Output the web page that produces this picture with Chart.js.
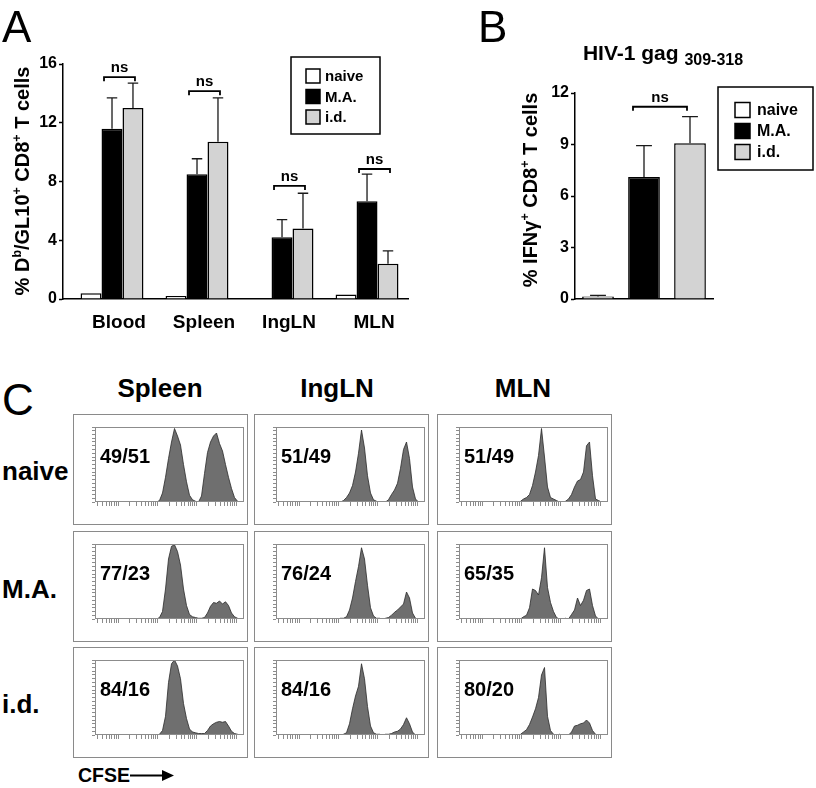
<!DOCTYPE html>
<html>
<head>
<meta charset="utf-8">
<script src="https://cdn.jsdelivr.net/npm/chart.js@4.4.1/dist/chart.umd.min.js"></script>
<style>
  html, body { margin: 0; padding: 0; background: #fff; }
  body { width: 816px; height: 788px; position: relative; overflow: hidden;
         font-family: "Liberation Sans", Arial, sans-serif; color: #000; }
  .abs { position: absolute; line-height: 1; white-space: nowrap; }
  .letter { font-size: 44px; }
  .hdr { font-size: 26px; font-weight: bold; }
  .hbox { position: absolute; width: 175px; height: 111px; border: 1px solid #8a8a8a; box-sizing: border-box; }
  canvas { position: absolute; }
</style>
</head>
<body>
<canvas id="chartA" width="420" height="340" style="left:0;top:0"></canvas>
<canvas id="chartB" width="396" height="340" style="left:420px;top:0"></canvas>
<div id="gridC"></div>

<div class="abs letter" style="left:2px;top:5px">A</div>
<div class="abs letter" style="left:478px;top:5px">B</div>
<div class="abs letter" style="left:2px;top:378px">C</div>

<div class="abs hdr" style="left:60px;width:200px;text-align:center;top:375px">Spleen</div>
<div class="abs hdr" style="left:237px;width:200px;text-align:center;top:375px">IngLN</div>
<div class="abs hdr" style="left:423px;width:200px;text-align:center;top:375px">MLN</div>

<div class="abs hdr" style="left:2px;top:458px">naive</div>
<div class="abs hdr" style="left:2px;top:576px">M.A.</div>
<div class="abs hdr" style="left:2px;top:691px">i.d.</div>

<div class="abs" style="left:78px;top:766px;font-size:19.5px;font-weight:bold">CFSE</div>
<svg class="abs" style="left:130px;top:770px" width="45" height="11">
  <line x1="0" y1="5.5" x2="34" y2="5.5" stroke="#000" stroke-width="2.2"/>
  <polygon points="32,0 44,5.5 32,11" fill="#000"/>
</svg>

<script>
// ---------- Panel A ----------
const tissues = ['Blood', 'Spleen', 'IngLN', 'MLN'];
const groupNames = ['naive', 'M.A.', 'i.d.'];
const naiveA = [0.4, 0.2, 0.05, 0.3];
const maA = [11.6, 8.5, 4.2, 6.65];
const idA = [13.0, 10.7, 4.8, 2.4];
const maErrA = [2.1, 1.05, 1.2, 1.85];
const idErrA = [1.7, 3.0, 2.4, 0.87];
const nsLevelA = [15.1, 14.15, 7.7, 8.85];
const ticksA = [0, 4, 8, 12, 16];

// ---------- Panel B ----------
const epitope = ['gag'];
const naiveB = [0.15];
const maB = [7.1];
const idB = [9.08];
const naiveErrB = [0.06];
const maErrB = [1.84];
const idErrB = [1.54];
const nsLevelB = [11.2];
const ticksB = [0, 3, 6, 9, 12];

// ---------- Panel C (CFSE histograms, % of max) ----------
const rowsC = ['naive', 'M.A.', 'i.d.'];
const colsC = ['Spleen', 'IngLN', 'MLN'];
const ratiosC = [
  ['49/51', '51/49', '51/49'],
  ['77/23', '76/24', '65/35'],
  ['84/16', '84/16', '80/20']
];
const cfseChannel = [61.5, 64.5, 67.5, 70.5, 73.5, 76.5, 79.5, 82.5, 85.5, 88.5, 91.5, 94.5, 97.5, 100.5, 103.5,
                     106.5, 109.5, 112.5, 115.5, 118.5, 121.5, 124.5, 127.5, 130.5, 133.5, 136.5, 139.5, 142.5, 145.5, 148.5];
const spleenNaive = [0, 2, 12, 33, 58, 80, 98, 88, 76, 50, 27, 9, 3, 1, 0, 8, 38, 66, 80, 88, 92, 78, 68, 50, 33, 18, 6, 1, 0, 0];
const inglnNaive  = [0, 0, 2, 6, 12, 22, 40, 65, 96, 72, 35, 12, 3, 1, 0, 0, 0, 3, 10, 16, 25, 45, 70, 80, 58, 20, 4, 0, 0, 0];
const mlnNaive    = [1, 4, 6, 10, 22, 40, 62, 98, 60, 20, 6, 4, 2, 0, 0, 1, 4, 10, 20, 28, 30, 40, 75, 80, 35, 4, 2, 0, 0, 0];
const spleenMA    = [0, 2, 10, 40, 80, 97, 99, 90, 72, 40, 18, 6, 3, 2, 1, 1, 2, 8, 17, 22, 21, 24, 20, 23, 18, 8, 3, 1, 0, 0];
const inglnMA     = [0, 1, 1, 3, 12, 28, 50, 70, 95, 80, 45, 15, 4, 1, 1, 0, 1, 2, 5, 9, 12, 16, 20, 36, 28, 8, 1, 0, 0, 0];
const mlnMA       = [0, 3, 5, 15, 40, 38, 32, 55, 95, 42, 22, 10, 2, 0, 0, 1, 0, 6, 12, 28, 18, 25, 38, 40, 18, 4, 0, 0, 0, 0];
const spleenID    = [0, 1, 6, 25, 70, 95, 100, 92, 75, 42, 22, 8, 4, 3, 2, 2, 2, 6, 12, 15, 17, 18, 17, 18, 12, 5, 2, 1, 0, 0];
const inglnID     = [0, 0, 1, 3, 15, 35, 52, 65, 95, 75, 38, 12, 3, 1, 1, 0, 1, 1, 2, 4, 5, 8, 14, 23, 15, 4, 0, 0, 0, 0];
const mlnID       = [1, 4, 7, 14, 24, 35, 50, 80, 90, 25, 6, 1, 0, 1, 0, 0, 0, 4, 12, 13, 15, 16, 20, 16, 6, 1, 0, 0, 0, 0];
const histC = [
  [spleenNaive, inglnNaive, mlnNaive],
  [spleenMA, inglnMA, mlnMA],
  [spleenID, inglnID, mlnID]
];

const FONT = '"Liberation Sans", Arial, sans-serif';
const fillColors = ['#ffffff', '#000000', '#d3d3d3'];

// draws upper error bars, from the bar top to value + err
function errorBarPlugin(errs, capMax) {
  return {
    id: 'errorBars',
    afterDatasetsDraw(chart) {
      const ctx = chart.ctx, ys = chart.scales.y;
      ctx.save();
      ctx.strokeStyle = '#1a1a1a';
      ctx.lineWidth = 1.3;
      chart.data.datasets.forEach((ds, i) => {
        const e = errs[i];
        if (!e) return;
        chart.getDatasetMeta(i).data.forEach((bar, j) => {
          const v = typeof ds.data[j] === 'object' ? ds.data[j].y : ds.data[j];
          const top = ys.getPixelForValue(v + e[j]);
          const cap = Math.min(capMax, bar.width * 0.5);
          ctx.beginPath();
          ctx.moveTo(bar.x, bar.y);
          ctx.lineTo(bar.x, top);
          ctx.moveTo(bar.x - cap / 2, top);
          ctx.lineTo(bar.x + cap / 2, top);
          ctx.stroke();
        });
      });
      ctx.restore();
    }
  };
}

// "ns" brackets between the M.A. and i.d. bars
function nsPlugin(levels, dl, dr) {
  return {
    id: 'nsBrackets',
    afterDatasetsDraw(chart) {
      const ctx = chart.ctx, ys = chart.scales.y;
      const ma = chart.getDatasetMeta(1).data, id = chart.getDatasetMeta(2).data;
      ctx.save();
      ctx.strokeStyle = '#000';
      ctx.lineWidth = 1.8;
      ctx.fillStyle = '#000';
      ctx.font = 'bold 15px ' + FONT;
      ctx.textAlign = 'center';
      ctx.textBaseline = 'alphabetic';
      levels.forEach((lv, j) => {
        const y = ys.getPixelForValue(lv);
        const x1 = ma[j].x + dl, x2 = id[j].x + dr;
        ctx.beginPath();
        ctx.moveTo(x1, y + 4);
        ctx.lineTo(x1, y);
        ctx.lineTo(x2, y);
        ctx.lineTo(x2, y + 4);
        ctx.stroke();
        ctx.fillText('ns', (x1 + x2) / 2, y - 5);
      });
      ctx.restore();
    }
  };
}

// boxed legend inside the canvas
function boxLegendPlugin(o) {
  return {
    id: 'boxLegend',
    afterDraw(chart) {
      const ctx = chart.ctx;
      ctx.save();
      ctx.strokeStyle = '#000';
      ctx.lineWidth = 1.5;
      ctx.strokeRect(o.x, o.y, o.w, o.h);
      ctx.font = 'bold ' + o.font + 'px ' + FONT;
      ctx.textBaseline = 'middle';
      ctx.textAlign = 'left';
      chart.data.datasets.forEach((ds, i) => {
        const cy = o.y + o.first + i * o.step;
        ctx.fillStyle = ds.backgroundColor;
        ctx.fillRect(o.sqX, cy - o.sq / 2, o.sq, o.sq);
        ctx.lineWidth = 1.5;
        ctx.strokeRect(o.sqX, cy - o.sq / 2, o.sq, o.sq);
        ctx.fillStyle = '#000';
        ctx.fillText(ds.label, o.textX, cy + 1);
      });
      ctx.restore();
    }
  };
}

// rotated y-axis title with superscripts
function richTitlePlugin(parts, cx, cy, size) {
  return {
    id: 'richTitle',
    afterDraw(chart) {
      const ctx = chart.ctx;
      ctx.save();
      ctx.translate(cx, cy);
      ctx.rotate(-Math.PI / 2);
      ctx.fillStyle = '#000';
      ctx.textBaseline = 'alphabetic';
      ctx.textAlign = 'left';
      const widths = parts.map(p => {
        ctx.font = 'bold ' + (p[1] ? size * 0.62 : size) + 'px ' + FONT;
        return ctx.measureText(p[0]).width;
      });
      let x = -widths.reduce((a, b) => a + b, 0) / 2;
      const base = size * 0.36;
      parts.forEach((p, i) => {
        ctx.font = 'bold ' + (p[1] ? size * 0.62 : size) + 'px ' + FONT;
        ctx.fillText(p[0], x, p[1] ? base - size * 0.42 : base);
        x += widths[i];
      });
      ctx.restore();
    }
  };
}

function barDataset(label, vals, color) {
  return {
    label: label,
    data: vals.map((v, i) => ({ x: i + 1, y: v })),
    backgroundColor: color,
    borderColor: '#000',
    borderWidth: 1.5
  };
}

function yAxis(max, ticks, width) {
  return {
    min: 0, max: max,
    afterBuildTicks: s => { s.ticks = ticks.map(v => ({ value: v })); },
    afterFit: s => { s.width = width; },
    grid: { drawOnChartArea: false, drawTicks: true, tickLength: 4, tickColor: '#000', tickWidth: 1.5 },
    border: { color: '#000', width: 1.5 },
    ticks: { font: { size: 16, weight: 'bold', family: FONT }, color: '#000', padding: 2 }
  };
}

// ---- chart A ----
new Chart(document.getElementById('chartA'), {
  type: 'bar',
  data: {
    datasets: [
      barDataset(groupNames[0], naiveA, fillColors[0]),
      barDataset(groupNames[1], maA, fillColors[1]),
      barDataset(groupNames[2], idA, fillColors[2])
    ]
  },
  options: {
    responsive: false, animation: false, events: [],
    categoryPercentage: 0.74, barPercentage: 1.0,
    layout: { padding: { left: 0, top: 64, right: 12, bottom: 0 } },
    plugins: { legend: { display: false }, tooltip: { enabled: false } },
    scales: {
      x: {
        type: 'linear', min: 0.4235, max: 4.482, offset: false,
        afterBuildTicks: s => { s.ticks = tissues.map((t, i) => ({ value: i + 1 })); },
        afterFit: s => { s.height = 41; },
        grid: { display: false, drawTicks: false, offset: false },
        border: { color: '#000', width: 1.5 },
        ticks: {
          callback: v => tissues[v - 1], autoSkip: false, maxRotation: 0,
          labelOffset: 7, padding: 12,
          font: { size: 19, weight: 'bold', family: FONT }, color: '#000'
        }
      },
      y: yAxis(16, ticksA, 63)
    }
  },
  plugins: [
    errorBarPlugin([null, maErrA, idErrA], 11),
    nsPlugin(nsLevelA, -8, 2),
    boxLegendPlugin({ x: 291, y: 57, w: 89, h: 77, sqX: 306, sq: 14, first: 19, step: 20.5, textX: 325, font: 15 }),
    richTitlePlugin([['% D', 0], ['b', 1], ['/GL10', 0], ['+', 1], [' CD8', 0], ['+', 1], [' T cells', 0]], 22, 181, 20)
  ]
});

// ---- chart B ----
new Chart(document.getElementById('chartB'), {
  type: 'bar',
  data: {
    labels: epitope,
    datasets: [
      { label: groupNames[0], data: naiveB, backgroundColor: fillColors[0], borderColor: '#000', borderWidth: 1.5 },
      { label: groupNames[1], data: maB, backgroundColor: fillColors[1], borderColor: '#000', borderWidth: 1.5 },
      { label: groupNames[2], data: idB, backgroundColor: fillColors[2], borderColor: '#000', borderWidth: 1.5 }
    ]
  },
  options: {
    responsive: false, animation: false, events: [],
    categoryPercentage: 1.0, barPercentage: 0.69,
    layout: { padding: { left: 0, top: 93, right: 103, bottom: 0 } },
    plugins: { legend: { display: false }, tooltip: { enabled: false } },
    scales: {
      x: {
        afterFit: s => { s.height = 41; },
        grid: { display: false, drawTicks: false },
        border: { color: '#000', width: 1.5 },
        ticks: { display: false }
      },
      y: yAxis(12, ticksB, 155)
    }
  },
  plugins: [
    errorBarPlugin([naiveErrB, maErrB, idErrB], 16),
    nsPlugin(nsLevelB, -11, -3),
    boxLegendPlugin({ x: 298, y: 87, w: 95, h: 83, sqX: 315, sq: 15, first: 23, step: 21, textX: 337, font: 16 }),
    richTitlePlugin([['% IFNγ', 0], ['+', 1], [' CD8', 0], ['+', 1], [' T cells', 0]], 110, 190, 20),
    {
      id: 'titleB',
      afterDraw(chart) {
        const ctx = chart.ctx;
        ctx.save();
        ctx.fillStyle = '#000';
        ctx.textBaseline = 'alphabetic';
        ctx.textAlign = 'left';
        ctx.font = 'bold 21px ' + FONT;
        const main = 'HIV-1 gag ';
        const w1 = ctx.measureText(main).width;
        ctx.font = 'bold 16px ' + FONT;
        const sub = '309-318';
        const w2 = ctx.measureText(sub).width;
        const x0 = 243 - (w1 + w2) / 2;
        ctx.font = 'bold 21px ' + FONT;
        ctx.fillText(main, x0, 60);
        ctx.font = 'bold 16px ' + FONT;
        ctx.fillText(sub, x0 + w1, 65);
        ctx.restore();
      }
    }
  ]
});

// ---- panel C histograms ----
const colLeft = [73, 254, 437];
const rowTop = [414, 531, 647];
const gridC = document.getElementById('gridC');

rowsC.forEach((row, r) => {
  colsC.forEach((col, c) => {
    const box = document.createElement('div');
    box.className = 'hbox';
    box.style.left = colLeft[c] + 'px';
    box.style.top = rowTop[r] + 'px';
    const cv = document.createElement('canvas');
    cv.width = 173;
    cv.height = 109;
    cv.style.left = '0';
    cv.style.top = '0';
    box.appendChild(cv);
    gridC.appendChild(box);

    const vals = histC[r][c];
    const label = ratiosC[r][c];
    new Chart(cv, {
      type: 'line',
      data: {
        datasets: [{
          label: col + ' ' + row,
          data: cfseChannel.map((x, i) => ({ x: x, y: vals[i] })),
          fill: 'origin',
          backgroundColor: '#6f6f6f',
          borderColor: '#2b2b2b',
          borderWidth: 0.8,
          pointRadius: 0,
          tension: 0
        }]
      },
      options: {
        responsive: false, animation: false, events: [],
        layout: { padding: { left: 17, right: 3, top: 12, bottom: 17 } },
        plugins: { legend: { display: false }, tooltip: { enabled: false } },
        scales: {
          x: { type: 'linear', min: 0, max: 149, display: false },
          xl: {
            type: 'logarithmic', position: 'bottom', min: 2.6, max: 15800,
            afterBuildTicks: s => {
              const t = [];
              for (let e = 0; e <= 4; e++) {
                for (let m = 1; m <= 9; m++) {
                  const v = m * Math.pow(10, e);
                  if (v >= 3 && v <= 10000) t.push({ value: v, major: m === 1 });
                }
              }
              s.ticks = t;
            },
            afterFit: s => { s.height = 5; },
            ticks: { display: false },
            grid: { drawOnChartArea: false, tickLength: 4, color: '#8c8c8c' },
            border: { display: false }
          },
          y: {
            min: 0, max: 100,
            afterFit: s => { s.width = 4; },
            ticks: { display: false, stepSize: 5 },
            grid: { drawOnChartArea: false, tickLength: 3, color: '#8c8c8c' },
            border: { display: false }
          }
        }
      },
      plugins: [{
        id: 'frameAndRatio',
        afterDraw(chart) {
          const ctx = chart.ctx, a = chart.chartArea;
          ctx.save();
          ctx.strokeStyle = '#8c8c8c';
          ctx.lineWidth = 1;
          ctx.strokeRect(Math.round(a.left) + 0.5, Math.round(a.top) + 0.5,
                         Math.round(a.right - a.left) - 1, Math.round(a.bottom - a.top) - 1);
          ctx.fillStyle = '#000';
          ctx.font = 'bold 20px ' + FONT;
          ctx.textBaseline = 'alphabetic';
          ctx.fillText(label, a.left + 5, a.top + 36);
          ctx.restore();
        }
      }]
    });
  });
});
</script>
</body>
</html>
